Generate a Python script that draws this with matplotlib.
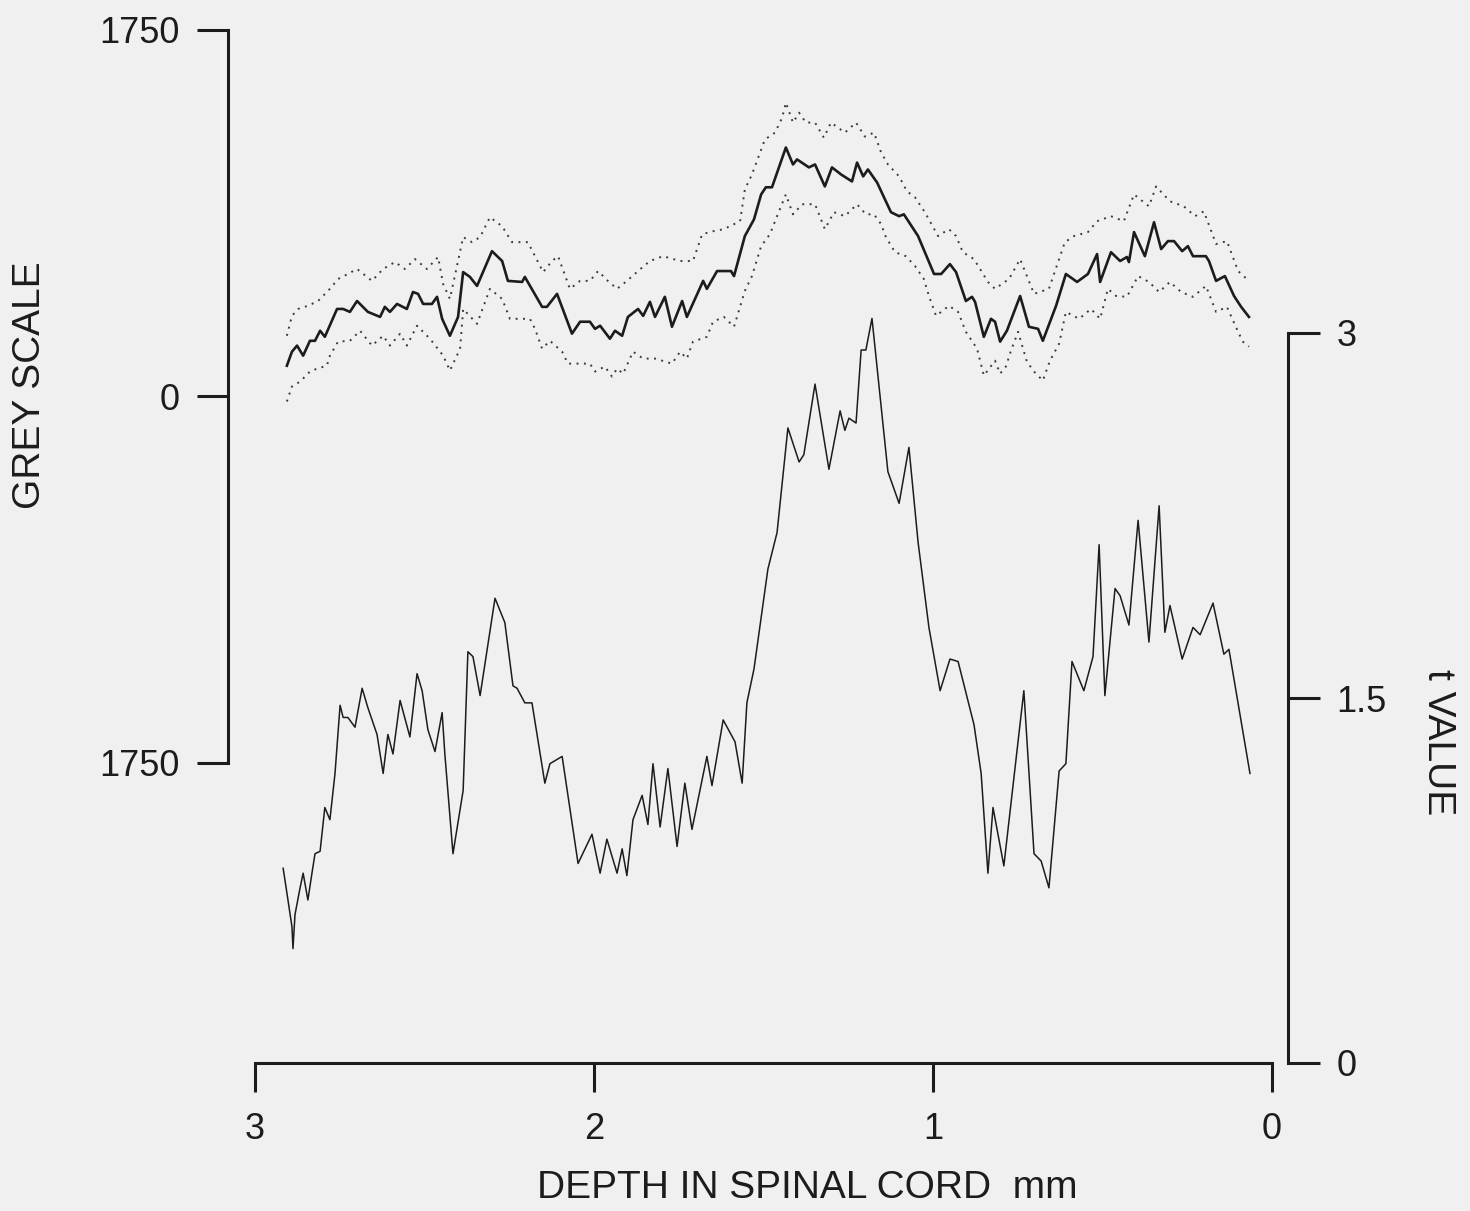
import matplotlib
matplotlib.use("Agg")
import matplotlib.pyplot as plt

# ---------------- data ----------------
depth_mean = [2.906,2.891,2.876,2.858,2.838,2.823,2.808,2.794,2.758,2.740,
              2.720,2.699,2.667,2.631,2.617,2.602,2.581,2.552,2.534,2.519,
              2.504,2.478,2.463,2.448,2.425,2.401,2.386,2.366,2.345,2.301,
              2.271,2.254,2.212,2.204,2.153,2.139,2.109,2.065,2.041,2.012,
              1.997,1.982,1.953,1.938,1.917,1.900,1.870,1.855,1.835,1.820,
              1.791,1.770,1.740,1.726,1.678,1.667,1.637,1.628,1.596,1.587,
              1.555,1.528,1.507,1.493,1.475,1.434,1.413,1.401,1.366,1.348,
              1.319,1.298,1.271,1.239,1.224,1.206,1.192,1.165,1.124,1.100,
              1.086,1.044,0.997,0.976,0.950,0.932,0.903,0.885,0.876,0.850,
              0.829,0.817,0.802,0.782,0.743,0.717,0.690,0.676,0.637,0.608,
              0.575,0.543,0.516,0.507,0.475,0.448,0.428,0.422,0.407,0.375,
              0.348,0.327,0.307,0.289,0.265,0.248,0.233,0.195,0.186,0.165,
              0.139,0.112,0.091,0.068]
grey_mean = [147,214,243,195,266,266,314,285,418,418,
             404,456,404,380,428,404,442,418,499,490,
             442,442,476,371,290,380,594,571,528,694,
             647,552,547,571,428,428,490,300,357,357,
             323,338,276,314,290,380,418,385,452,380,
             476,333,456,380,552,514,599,599,599,575,
             766,846,965,999,999,1189,1108,1132,1094,1108,
             1003,1094,1060,1027,1117,1051,1084,1022,880,861,
             870,766,585,585,632,594,456,476,452,285,
             371,357,262,314,480,333,323,266,433,585,
             547,585,680,547,689,647,666,642,785,670,
             832,704,742,742,694,718,670,670,647,552,
             575,480,428,380]

depth_upper = [2.906,2.891,2.873,2.844,2.814,2.779,2.755,2.726,2.699,2.655,
               2.622,2.587,2.558,2.528,2.493,2.460,2.445,2.425,2.386,2.360,
               2.336,2.307,2.271,2.242,2.195,2.180,2.150,2.124,2.106,2.071,
               2.041,2.012,1.988,1.959,1.932,1.903,1.870,1.835,1.796,1.746,
               1.708,1.681,1.649,1.617,1.569,1.555,1.534,1.496,1.466,1.445,
               1.434,1.413,1.395,1.375,1.348,1.322,1.301,1.260,1.227,1.201,
               1.174,1.153,1.133,1.100,1.077,1.053,1.024,0.985,0.953,0.932,
               0.912,0.879,0.838,0.817,0.776,0.743,0.702,0.658,0.611,0.584,
               0.543,0.516,0.475,0.437,0.407,0.363,0.342,0.301,0.260,0.227,
               0.201,0.165,0.133,0.100,0.068]
grey_upper = [290,385,418,433,456,514,561,585,609,552,
              609,642,609,656,609,666,537,466,761,737,
              761,856,813,737,737,689,594,647,670,514,
              552,552,599,552,514,552,599,647,670,647,
              647,775,789,799,837,989,1060,1227,1260,1331,
              1403,1308,1355,1308,1308,1236,1308,1260,1308,1241,
              1260,1165,1108,1051,980,951,880,766,799,766,
              689,656,547,514,561,656,490,514,737,766,
              785,837,861,837,965,908,1003,932,908,861,
              884,728,742,599,552]

depth_lower = [2.906,2.891,2.867,2.838,2.817,2.788,2.779,2.755,2.720,2.690,
               2.655,2.622,2.602,2.572,2.552,2.522,2.484,2.445,2.425,2.395,
               2.386,2.345,2.307,2.271,2.248,2.189,2.174,2.153,2.130,2.094,
               2.077,2.041,2.012,1.997,1.968,1.947,1.932,1.914,1.885,1.855,
               1.820,1.770,1.746,1.726,1.708,1.667,1.649,1.617,1.587,1.555,
               1.534,1.507,1.481,1.460,1.434,1.413,1.386,1.348,1.319,1.292,
               1.260,1.224,1.198,1.174,1.153,1.139,1.112,1.080,1.053,1.027,
               1.012,0.991,0.953,0.926,0.903,0.870,0.850,0.817,0.802,0.785,
               0.770,0.749,0.723,0.702,0.676,0.655,0.628,0.608,0.569,0.534,
               0.507,0.484,0.460,0.428,0.395,0.363,0.333,0.301,0.268,0.233,
               0.195,0.165,0.133,0.100,0.086,0.068]
grey_lower = [-24,48,71,119,133,147,195,262,266,314,
              243,290,243,300,243,338,276,195,124,228,
              418,347,514,466,371,371,323,228,266,214,
              157,157,157,119,143,95,133,109,214,181,
              181,157,214,181,262,285,357,380,333,504,
              575,718,775,861,965,870,918,918,799,880,
              861,918,870,870,823,761,689,670,623,561,
              480,385,433,404,309,228,100,171,109,143,
              219,309,166,119,76,171,252,404,371,418,
              371,514,480,476,575,547,499,547,499,476,
              528,404,428,309,262,238]

depth_t = [2.917,2.906,2.891,2.888,2.882,2.867,2.858,2.844,2.832,2.823,
           2.808,2.794,2.779,2.764,2.749,2.740,2.726,2.705,2.684,2.667,
           2.640,2.622,2.608,2.593,2.572,2.543,2.522,2.507,2.490,2.469,
           2.448,2.440,2.416,2.386,2.372,2.357,2.336,2.292,2.263,2.239,
           2.227,2.204,2.183,2.145,2.130,2.094,2.047,2.006,1.982,1.962,
           1.932,1.917,1.903,1.885,1.858,1.841,1.826,1.805,1.782,1.755,
           1.732,1.711,1.667,1.652,1.619,1.584,1.563,1.549,1.528,1.487,
           1.460,1.428,1.395,1.381,1.348,1.307,1.274,1.260,1.248,1.227,
           1.212,1.198,1.180,1.133,1.100,1.071,1.044,1.012,0.979,0.950,
           0.926,0.879,0.858,0.838,0.823,0.791,0.732,0.702,0.681,0.658,
           0.628,0.608,0.590,0.555,0.528,0.510,0.493,0.463,0.448,0.422,
           0.395,0.363,0.333,0.316,0.301,0.265,0.233,0.212,0.174,0.142,
           0.127,0.065]
t_value = [0.80,0.70,0.56,0.47,0.61,0.72,0.78,0.67,0.78,0.86,
           0.87,1.05,1.00,1.19,1.47,1.42,1.42,1.38,1.54,1.46,
           1.35,1.19,1.35,1.27,1.49,1.34,1.60,1.53,1.37,1.28,
           1.44,1.27,0.86,1.12,1.69,1.67,1.51,1.91,1.81,1.55,
           1.54,1.48,1.48,1.15,1.23,1.26,0.82,0.94,0.78,0.92,
           0.78,0.88,0.77,1.00,1.10,0.98,1.23,0.97,1.21,0.89,
           1.15,0.96,1.26,1.14,1.41,1.32,1.15,1.48,1.62,2.03,
           2.18,2.61,2.47,2.50,2.79,2.44,2.68,2.60,2.65,2.63,
           2.93,2.93,3.06,2.43,2.30,2.53,2.14,1.79,1.53,1.66,
           1.65,1.39,1.19,0.78,1.05,0.81,1.53,0.86,0.83,0.72,
           1.20,1.23,1.65,1.53,1.67,2.13,1.51,1.95,1.92,1.80,
           2.23,1.73,2.29,1.77,1.88,1.66,1.79,1.76,1.89,1.68,
           1.70,1.19]

x_ticks = [3, 2, 1, 0]
x_ticklabels = ["3", "2", "1", "0"]
grey_ticks = [-1750, 0, 1750]
grey_ticklabels = ["1750", "0", "1750"]
t_ticks = [0, 1.5, 3]
t_ticklabels = ["0", "1.5", "3"]

# ---------------- styling ----------------
BG = "#f0f0f0"
INK = "#1c1c1c"
FONT = ["Liberation Sans", "DejaVu Sans"]
plt.rcParams["font.family"] = FONT

W, H = 1470, 1211
fig = plt.figure(figsize=(W / 100, H / 100), dpi=100, facecolor=BG)

# axes frame in pixels: left spine x=228, right spine x=1288, top y=30, bottom y=1063
left_px, right_px, top_px, bot_px = 228, 1288, 30, 1063
rect = [left_px / W, 1 - bot_px / H, (right_px - left_px) / W, (bot_px - top_px) / H]
ax = fig.add_axes(rect)
ax.set_facecolor(BG)
axt = ax.twinx()

# x: 3 at px 255, 0 at px 1272
ppu_x = (1272 - 255) / 3.0
ax.set_xlim(3 + (255 - left_px) / ppu_x, 0 - (right_px - 1272) / ppu_x)

# grey scale: +1750 at y=30, -1750 at y=763
ppu_g = (763 - 30) / 3500.0
zero_g = 30 + 1750 * ppu_g
ax.set_ylim(-(bot_px - zero_g) / ppu_g, (zero_g - top_px) / ppu_g)

# t value: 0 at y=1063, 3 at y=333
ppu_t = (1063 - 333) / 3.0
axt.set_ylim(0, (bot_px - top_px) / ppu_t)

# traces
ax.plot(depth_upper, grey_upper, color="#3a3a3a", lw=1.4,
        linestyle=(0, (1.0, 2.8)), solid_capstyle="butt")
ax.plot(depth_lower, grey_lower, color="#3a3a3a", lw=1.4,
        linestyle=(0, (1.0, 2.8)), solid_capstyle="butt")
ax.plot(depth_mean, grey_mean, color=INK, lw=1.9)
axt.plot(depth_t, t_value, color=INK, lw=1.1)

# spines
for a in (ax, axt):
    a.spines["top"].set_visible(False)
ax.spines["right"].set_visible(False)
axt.spines["left"].set_visible(False)
axt.spines["bottom"].set_visible(False)

spine_lw = 2.2
ax.spines["left"].set_bounds(-1750, 1750)
ax.spines["left"].set_linewidth(spine_lw)
ax.spines["left"].set_color(INK)
ax.spines["bottom"].set_bounds(0, 3)
ax.spines["bottom"].set_linewidth(spine_lw)
ax.spines["bottom"].set_color(INK)
axt.spines["right"].set_bounds(0, 3)
axt.spines["right"].set_linewidth(spine_lw)
axt.spines["right"].set_color(INK)

ax.set_xticks(x_ticks, labels=x_ticklabels)
ax.set_yticks(grey_ticks, labels=grey_ticklabels)
axt.set_yticks(t_ticks, labels=t_ticklabels)

tick_fs = 26
ax.tick_params(axis="x", direction="out", length=21, width=spine_lw, color=INK,
               pad=14, labelsize=tick_fs, labelcolor=INK)
ax.tick_params(axis="y", direction="out", length=22, width=spine_lw, color=INK,
               pad=13, labelsize=tick_fs, labelcolor=INK)
axt.tick_params(axis="y", direction="out", length=23, width=spine_lw, color=INK,
                pad=12, labelsize=tick_fs, labelcolor=INK)

# axis titles
label_fs = 28
fig.text(30 / W, 1 - 385 / H, "GREY SCALE", rotation=90, ha="center", va="center",
         fontsize=label_fs, color=INK)
fig.text(1438 / W, 1 - 742 / H, "t VALUE", rotation=-90, ha="center", va="center",
         fontsize=label_fs, color=INK)
fig.text(807 / W, 1 - 1188 / H, "DEPTH IN SPINAL CORD  mm", ha="center", va="center",
         fontsize=label_fs, color=INK)

fig.savefig("out.png", dpi=100, facecolor=BG)
